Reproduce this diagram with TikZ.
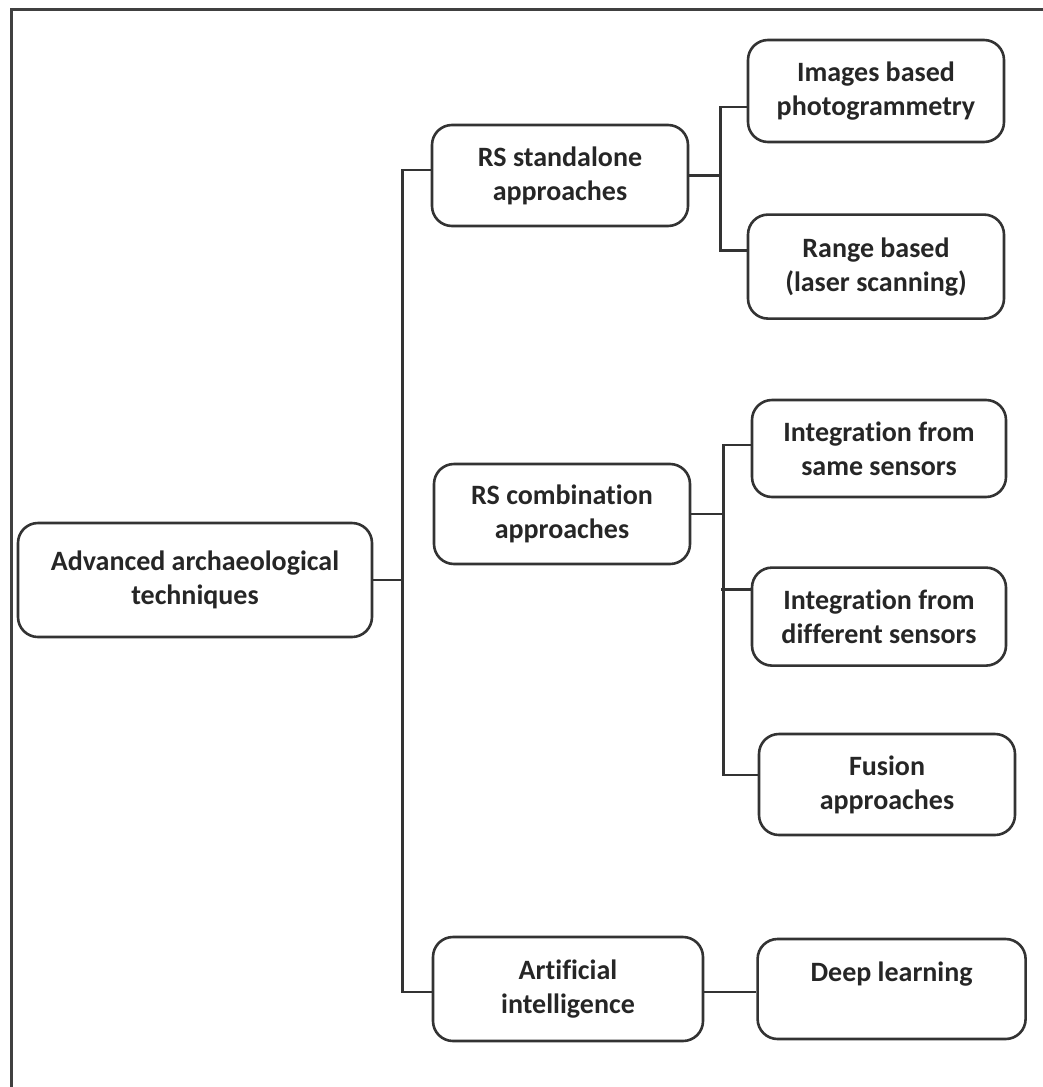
\documentclass[tikz,border=0pt]{standalone}
\usepackage{fontspec}
\setmainfont{Carlito}[Ligatures={NoCommon}]
\usetikzlibrary{positioning}

\begin{document}
\begin{tikzpicture}[
    x=1pt, y=-1pt,
    every node/.style={font=\bfseries\fontsize{28}{34}\selectfont, text=black!85},
    box/.style={rectangle, draw=black!80, line width=2.6pt, rounded corners=20pt, align=center, minimum width=256pt, minimum height=102pt, inner sep=2pt},
    link/.style={draw=black!80, line width=2.6pt},
    frame/.style={draw=black!75, line width=3pt}
]
\useasboundingbox (0,0) rectangle (1043,1087);

% Frame
\draw[frame] (11,1087) -- (11,9) -- (1043,9);

% Nodes
\node[box, minimum width=354pt, minimum height=114pt] (root) at (195,580) {Advanced archaeological\\techniques};
\node[box, minimum height=101pt] (standalone) at (560,175.5) {RS standalone\\approaches};
\node[box, minimum height=100pt] (combination) at (562,514) {RS combination\\approaches};
\node[box, minimum width=270pt, minimum height=104pt] (ai) at (568,989) {Artificial\\intelligence};

\node[box] (photo) at (876,91) {Images based\\photogrammetry};
\node[box, minimum height=104pt, below=70pt of photo] (range) {Range based\\(laser scanning)};
\node[box, minimum width=254pt, minimum height=97pt] (same) at (879,448.5) {Integration from\\same sensors};
\node[box, minimum width=254pt, minimum height=98pt, below=68pt of same] (different) {Integration from\\different sensors};
\node[box, minimum height=101pt] (fusion) at (887,784.5) {Fusion\\approaches};
\node[box, minimum width=268pt, minimum height=100pt, right=52pt of ai] (deep) {Deep learning\\\mbox{}};

% Connectors
\draw[link] (root.east) -- ++(29,0) coordinate (trunk);
\draw[link] ([yshift=5.5pt]standalone.west) -| (trunk) |- ([yshift=-3pt]ai.west);

\draw[link] (standalone.east) -- ++(31,0) coordinate (fork1);
\draw[link] ([yshift=-16pt]photo.west) -| (fork1) |- ([yshift=16pt]range.west);

\draw[link] (combination.east) -- ++(32,0) coordinate (fork2);
\draw[link] ([yshift=3.5pt]same.west) -| (fork2) |- ([yshift=9.5pt]fusion.west);
\draw[link] ([yshift=27pt]different.west) -- ++(-30,0);

\draw[link] ([yshift=-3pt]ai.east) -- ([yshift=-3pt]deep.west);

\end{tikzpicture}
\end{document}
